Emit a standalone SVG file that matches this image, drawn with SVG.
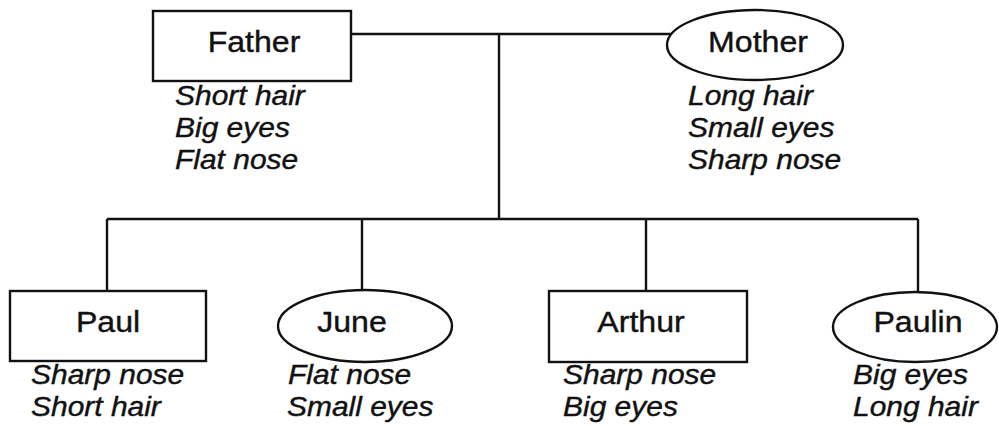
<svg xmlns="http://www.w3.org/2000/svg" width="999" height="426" viewBox="0 0 999 426">
<style>
.shape{fill:#fff;stroke:#111;stroke-width:2.4}
.conn line{stroke:#111;stroke-width:2.4}
.name{font-family:"Liberation Sans",Arial,sans-serif;font-size:30px;fill:#111;stroke:#111;stroke-width:0.4;text-anchor:middle}
.attr{font-family:"Liberation Sans",Arial,sans-serif;font-size:28px;font-style:italic;fill:#111;stroke:#111;stroke-width:0.4}
</style>
<rect width="999" height="426" fill="#fff"/>
<g id="connectors" class="conn">
<line x1="351" y1="34" x2="672" y2="34"/>
<line x1="499" y1="34" x2="499" y2="219"/>
<line x1="107" y1="219" x2="918" y2="219"/>
<line x1="107" y1="219" x2="107" y2="291"/>
<line x1="362" y1="219" x2="362" y2="290"/>
<line x1="646" y1="219" x2="646" y2="291"/>
<line x1="918" y1="219" x2="918" y2="292"/>
</g>
<g id="father">
<rect class="shape" x="153" y="11" width="198" height="70"/>
<text class="name" transform="translate(254 52) scale(1.07 1)">Father</text>
<text class="attr" transform="translate(175 105) scale(1.07 1)">Short hair</text>
<text class="attr" transform="translate(175 137) scale(1.07 1)">Big eyes</text>
<text class="attr" transform="translate(175 169) scale(1.07 1)">Flat nose</text>
</g>
<g id="mother">
<ellipse class="shape" cx="755" cy="45" rx="88" ry="35"/>
<text class="name" transform="translate(758 52) scale(1.07 1)">Mother</text>
<text class="attr" transform="translate(688 105) scale(1.07 1)">Long hair</text>
<text class="attr" transform="translate(688 137) scale(1.07 1)">Small eyes</text>
<text class="attr" transform="translate(688 169) scale(1.07 1)">Sharp nose</text>
</g>
<g id="paul">
<rect class="shape" x="10" y="291" width="196" height="70"/>
<text class="name" transform="translate(108 332) scale(1.07 1)">Paul</text>
<text class="attr" transform="translate(31 384) scale(1.07 1)">Sharp nose</text>
<text class="attr" transform="translate(31 416) scale(1.07 1)">Short hair</text>
</g>
<g id="june">
<ellipse class="shape" cx="365" cy="326" rx="87" ry="36"/>
<text class="name" transform="translate(352 332) scale(1.07 1)">June</text>
<text class="attr" transform="translate(288 384) scale(1.07 1)">Flat nose</text>
<text class="attr" transform="translate(287 416) scale(1.07 1)">Small eyes</text>
</g>
<g id="arthur">
<rect class="shape" x="549" y="291" width="198" height="71"/>
<text class="name" transform="translate(641 332) scale(1.07 1)">Arthur</text>
<text class="attr" transform="translate(563 384) scale(1.07 1)">Sharp nose</text>
<text class="attr" transform="translate(563 416) scale(1.07 1)">Big eyes</text>
</g>
<g id="paulin">
<ellipse class="shape" cx="915" cy="327" rx="82" ry="35"/>
<text class="name" transform="translate(918 332) scale(1.07 1)">Paulin</text>
<text class="attr" transform="translate(853 384) scale(1.07 1)">Big eyes</text>
<text class="attr" transform="translate(853 416) scale(1.07 1)">Long hair</text>
</g>
</svg>
